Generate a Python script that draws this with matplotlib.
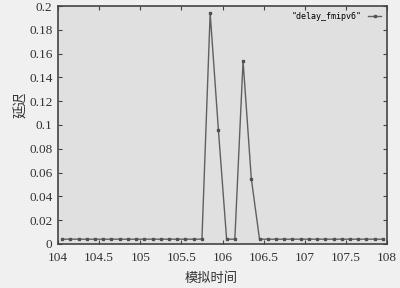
import matplotlib
matplotlib.use('Agg')
import matplotlib.pyplot as plt

# simulated time (s) and delay of the fmipv6 trace
times = [104.05, 104.15, 104.25, 104.35, 104.45, 104.55, 104.65, 104.75,
         104.85, 104.95, 105.05, 105.15, 105.25, 105.35, 105.45, 105.55,
         105.65, 105.75, 105.85, 105.95, 106.05, 106.15, 106.25, 106.35,
         106.45, 106.55, 106.65, 106.75, 106.85, 106.95, 107.05, 107.15,
         107.25, 107.35, 107.45, 107.55, 107.65, 107.75, 107.85, 107.95]
delays = [0.004, 0.004, 0.004, 0.004, 0.004, 0.004, 0.004, 0.004,
          0.004, 0.004, 0.004, 0.004, 0.004, 0.004, 0.004, 0.004,
          0.004, 0.004, 0.194, 0.096, 0.004, 0.004, 0.154, 0.055,
          0.004, 0.004, 0.004, 0.004, 0.004, 0.004, 0.004, 0.004,
          0.004, 0.004, 0.004, 0.004, 0.004, 0.004, 0.004, 0.004]

xticks = [104, 104.5, 105, 105.5, 106, 106.5, 107, 107.5, 108]
xlabels = ['104', '104.5', '105', '105.5', '106', '106.5', '107', '107.5', '108']
yticks = [0, 0.02, 0.04, 0.06, 0.08, 0.1, 0.12, 0.14, 0.16, 0.18, 0.2]
ylabels = ['0', '0.02', '0.04', '0.06', '0.08', '0.1', '0.12', '0.14', '0.16', '0.18', '0.2']

fig = plt.figure(figsize=(4, 2.88), dpi=100, facecolor='#f0f0f0')
ax = fig.add_axes([0.145, 0.153, 0.8225, 0.826])
ax.set_facecolor('#e0e0e0')

ax.plot(times, delays, color='#606060', lw=1.0, marker='s', ms=1.8,
        mfc='#505050', mec='#505050', label='"delay_fmipv6"')

ax.set_xlim(104, 108)
ax.set_ylim(0, 0.2)
ax.set_xticks(xticks)
ax.set_xticklabels(xlabels, family='Liberation Serif', fontsize=9.5, color='#333333')
ax.set_yticks(yticks)
ax.set_yticklabels(ylabels, family='Liberation Serif', fontsize=9.5, color='#333333')
ax.tick_params(direction='in', length=3, width=0.8, top=True, right=True,
               color='#444444')
ax.tick_params(axis='x', pad=6)
ax.tick_params(axis='y', pad=4)
for s in ax.spines.values():
    s.set_color('#444444')
    s.set_linewidth(1.2)

cjk = ['Noto Sans CJK SC', 'DejaVu Sans']
ax.set_xlabel('模拟时间', family=cjk, fontsize=9.5, color='#333333')
ax.xaxis.set_label_coords(0.465, -0.12)
ax.set_ylabel('延迟', family=cjk, fontsize=9.5, color='#333333')
ax.yaxis.set_label_coords(-0.09, 0.585)

ax.legend(loc='upper right', frameon=False, handlelength=1.6,
          prop={'family': 'DejaVu Sans Mono', 'size': 6},
          borderaxespad=0.3, markerfirst=False)

fig.savefig('out.png', dpi=100, facecolor=fig.get_facecolor())
